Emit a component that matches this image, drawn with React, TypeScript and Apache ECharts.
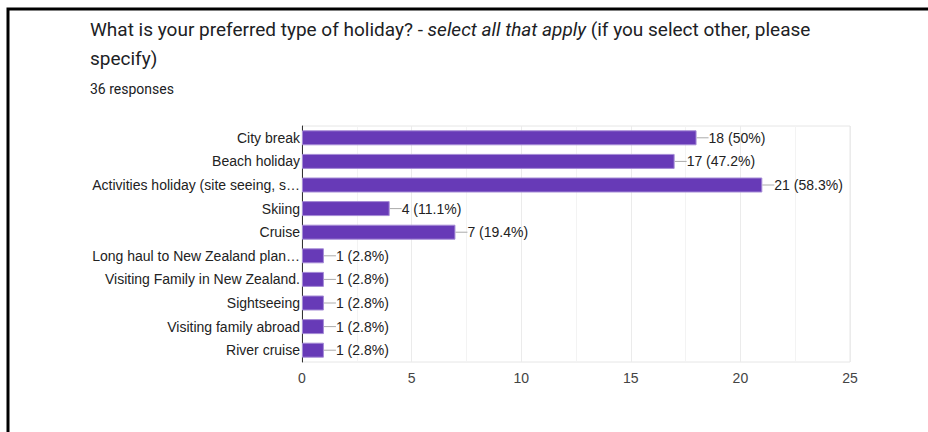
import React, { useEffect, useRef } from "react";
import * as echarts from "echarts";

const categories = [
  "City break",
  "Beach holiday",
  "Activities holiday (site seeing, s…",
  "Skiing",
  "Cruise",
  "Long haul to New Zealand plan…",
  "Visiting Family in New Zealand.",
  "Sightseeing",
  "Visiting family abroad",
  "River cruise",
];
const counts = [18, 17, 21, 4, 7, 1, 1, 1, 1, 1];
const percents = ["50%", "47.2%", "58.3%", "11.1%", "19.4%", "2.8%", "2.8%", "2.8%", "2.8%", "2.8%"];
const xTicks = [0, 5, 10, 15, 20, 25];

export default function App() {
  const ref = useRef<HTMLDivElement>(null);
  useEffect(() => {
    if (!ref.current) return;
    const chart = echarts.init(ref.current, undefined, { renderer: "svg" });
    const labelFont = "Arial, 'Liberation Sans', sans-serif";
    chart.setOption({
      animation: false,
      backgroundColor: "#ffffff",
      title: [
        {
          left: 90,
          top: 15,
          padding: 0,
          text:
            "{a|What is your preferred type of holiday? - }{b|select all that apply}{a| (if you select other, please}\n{a|specify)}",
          textStyle: {
            fontWeight: "normal",
            rich: {
              a: { fontFamily: "Roboto, sans-serif", fontSize: 19, fontWeight: "normal", color: "#202124", lineHeight: 29 },
              b: { fontFamily: "Roboto, sans-serif", fontSize: 19, fontWeight: "normal", fontStyle: "italic", color: "#202124", lineHeight: 29 },
            },
          },
        },
        {
          left: 90,
          top: 82,
          padding: 0,
          text: "36 responses",
          textStyle: { fontFamily: "Roboto, sans-serif", fontSize: 14, fontWeight: "normal", color: "#202124" },
        },
      ],
      graphic: [
        {
          type: "polyline",
          shape: { points: [[8, 432], [8, 9], [928, 9]] },
          style: { stroke: "#000", lineWidth: 3, fill: null },
        },
      ],
      grid: {
        left: 302,
        right: 78,
        top: 126,
        bottom: 70,
        show: true,
        borderColor: "#e6e6e6",
        borderWidth: 1,
      },
      xAxis: {
        type: "value",
        min: 0,
        max: 25,
        interval: 5,
        axisLine: { show: false },
        axisTick: { show: false },
        axisLabel: {
          color: "#444",
          fontFamily: labelFont,
          fontSize: 14,
          margin: 9,
          formatter: (v: number) => (xTicks.includes(v) ? String(v) : ""),
        },
        splitLine: { show: true, lineStyle: { color: "#ebebeb", width: 1 } },
        minorTick: { show: false, splitNumber: 2 },
        minorSplitLine: { show: true, lineStyle: { color: "#f3f3f3", width: 1 } },
      },
      yAxis: {
        type: "category",
        data: categories,
        inverse: true,
        axisLine: { show: true, lineStyle: { color: "#333", width: 1 } },
        axisTick: { show: false },
        axisLabel: { color: "#222", fontFamily: labelFont, fontSize: 14, margin: 2 },
      },
      series: [
        {
          type: "bar",
          data: counts,
          barWidth: 15,
          itemStyle: { color: "#673ab7", borderColor: "#a58bd6", borderWidth: 1 },
          label: {
            show: true,
            position: "right",
            distance: 0,
            formatter: (p: any) => `{l|}{t|${counts[p.dataIndex]} (${percents[p.dataIndex]})}`,
            rich: {
              l: { width: 12, height: 1, backgroundColor: "#aaaaaa" },
              t: { color: "#222", fontFamily: labelFont, fontSize: 14, lineHeight: 16 },
            },
          },
        },
      ],
    });
    return () => chart.dispose();
  }, []);
  return (
    <div
      ref={ref}
      style={{ position: "fixed", left: 0, top: 0, width: 928, height: 432 }}
    />
  );
}
